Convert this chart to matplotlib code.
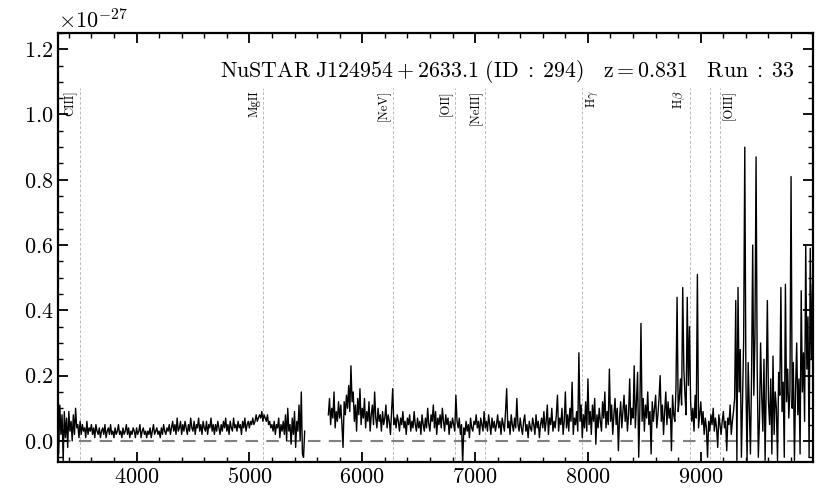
import numpy as np
import matplotlib
matplotlib.use("Agg")
import matplotlib.pyplot as plt
from matplotlib.ticker import MultipleLocator

# Computer Modern look
plt.rcParams['font.family'] = 'serif'
plt.rcParams['font.serif'] = ['cmr10']
plt.rcParams['mathtext.fontset'] = 'cm'
plt.rcParams['axes.formatter.use_mathtext'] = True

# flux values in units of 1e-27
scale = 1e-27

# blue arm: 3300 - 5490 A, one value every 10 A
blue_start = 3300
blue_flux = [
    0.06, -0.04, 0.11, 0.02, 0.08, -0.06, 0.09, 0.01, 0.07, -0.02,
    0.09, 0.03, 0.06, 0.00, 0.08, 0.02, 0.10, 0.04, 0.05, 0.01,
    0.06, 0.02, 0.05, 0.03, 0.04, 0.01, 0.06, 0.02, 0.04, 0.03,
    0.05, 0.02, 0.04, 0.01, 0.05, 0.03, 0.02, 0.04, 0.01, 0.03,
    0.04, 0.02, 0.05, 0.01, 0.03, 0.04, 0.02, 0.05, 0.02, 0.03,
    0.01, 0.04, 0.02, 0.03, 0.05, 0.02, 0.03, 0.01, 0.04, 0.02,
    0.03, 0.05, 0.02, 0.04, 0.01, 0.03, 0.02, 0.04, 0.03, 0.01,
    0.04, 0.02, 0.03, 0.05, 0.01, 0.03, 0.04, 0.02, 0.03, 0.01,
    0.03, 0.02, 0.04, 0.01, 0.03, 0.05, 0.02, 0.03, 0.04, 0.02,
    0.03, 0.01, 0.04, 0.02, 0.05, 0.03, 0.02, 0.04, 0.03, 0.05,
    0.02, 0.04, 0.06, 0.03, 0.05, 0.02, 0.07, 0.03, 0.04, 0.06,
    0.02, 0.05, 0.03, 0.06, 0.04, 0.02, 0.05, 0.03, 0.07, 0.04,
    0.03, 0.06, 0.02, 0.05, 0.04, 0.07, 0.03, 0.05, 0.02, 0.06,
    0.04, 0.03, 0.06, 0.02, 0.05, 0.04, 0.07, 0.03, 0.05, 0.02,
    0.05, 0.03, 0.06, 0.04, 0.02, 0.05, 0.03, 0.06, 0.04, 0.07,
    0.03, 0.05, 0.02, 0.06, 0.04, 0.03, 0.07, 0.04, 0.05, 0.03,
    0.06, 0.04, 0.05, 0.02, 0.06, 0.04, 0.07, 0.03, 0.05, 0.06,
    0.04, 0.06, 0.05, 0.07, 0.05, 0.06, 0.08, 0.06, 0.07, 0.08,
    0.07, 0.09, 0.06, 0.08, 0.07, 0.06, 0.08, 0.05, 0.06, 0.04,
    0.05, 0.03, 0.06, 0.02, 0.05, 0.04, 0.07, 0.01, 0.05, 0.03,
    0.06, 0.02, 0.08, 0.00, 0.10, 0.03, 0.05, -0.01, 0.07, 0.02,
    0.09, -0.02, 0.06, 0.03, 0.11, 0.00, 0.15, -0.04, -0.05, 0.03,
]

# red arm: 5700 - 10000 A, one value every 10 A
red_start = 5700
red_flux = [
    0.08, 0.13, 0.05, 0.10, 0.07, 0.15, 0.04, 0.09, 0.06, 0.12,
    0.07, 0.11, 0.05, -0.02, 0.12, 0.08, 0.14, 0.10, 0.17, 0.09,
    0.23, 0.12, 0.15, 0.06, 0.11, 0.03, 0.13, 0.08, 0.16, 0.05,
    0.10, 0.07, 0.13, 0.04, 0.09, 0.06, 0.12, 0.03, 0.08, 0.11,
    0.05, 0.15, 0.07, 0.04, 0.10, 0.06, 0.08, 0.03, 0.09, 0.05,
    0.07, 0.11, 0.04, 0.08, 0.06, 0.02, 0.09, 0.16, 0.05, 0.07,
    0.04, 0.08, 0.06, 0.03, 0.07, 0.05, 0.09, 0.04, 0.06, 0.02,
    0.07, 0.05, 0.08, 0.03, 0.06, 0.04, 0.09, 0.05, 0.03, 0.07,
    0.04, 0.06, 0.02, 0.08, 0.05, 0.03, 0.07, 0.04, 0.10, 0.05,
    0.03, 0.08, 0.06, 0.11, 0.04, 0.09, 0.02, 0.07, 0.05, 0.08,
    0.04, 0.10, 0.06, 0.03, 0.08, 0.05, 0.07, 0.02, 0.06, 0.04,
    0.07, 0.05, 0.03, 0.14, 0.06, 0.04, 0.07, 0.02, 0.05, -0.07,
    0.04, 0.02, 0.06, 0.03, 0.05, 0.01, 0.07, 0.04, 0.03, 0.06,
    0.05, 0.08, 0.04, 0.06, 0.02, 0.07, 0.05, 0.03, 0.09, 0.04,
    0.06, 0.03, 0.08, 0.05, 0.02, 0.07, 0.04, 0.06, 0.03, 0.05,
    0.08, 0.04, 0.06, 0.02, 0.07, 0.05, 0.03, 0.09, 0.16, 0.04,
    0.06, 0.02, 0.08, 0.05, 0.03, 0.07, 0.04, 0.13, 0.05, 0.03,
    0.07, 0.04, 0.02, 0.06, 0.08, 0.03, 0.05, 0.01, 0.06, 0.04,
    0.03, 0.07, 0.05, 0.02, 0.08, 0.04, 0.06, 0.01, 0.05, 0.07,
    0.04, 0.09, 0.03, 0.06, 0.11, 0.02, 0.07, 0.05, 0.10, 0.03,
    0.06, 0.04, 0.08, 0.14, 0.03, 0.07, 0.05, 0.10, 0.02, 0.06,
    0.15, 0.04, 0.08, 0.03, 0.10, 0.06, 0.18, 0.02, 0.07, 0.05,
    0.09, 0.03, 0.27, 0.06, 0.11, 0.01, 0.08, 0.04, 0.12, 0.03,
    0.19, 0.05, 0.09, 0.02, 0.11, 0.06, 0.13, -0.01, 0.08, 0.04,
    0.10, 0.06, 0.03, 0.12, 0.07, 0.15, 0.04, 0.09, 0.05, 0.22,
    0.06, 0.11, 0.02, 0.08, 0.13, 0.05, 0.10, -0.03, 0.07, 0.12,
    0.04, 0.09, 0.14, 0.06, 0.11, 0.03, 0.08, 0.19, 0.05, 0.10,
    0.07, 0.23, 0.04, 0.12, 0.21, -0.05, 0.09, 0.36, 0.06, 0.13,
    0.03, 0.11, 0.07, 0.15, 0.05, 0.09, -0.04, 0.12, 0.06, 0.10,
    0.14, 0.04, 0.08, 0.13, 0.20, 0.06, 0.11, 0.02, 0.09, 0.15,
    0.05, 0.12, 0.07, 0.10, -0.03, 0.14, 0.08, 0.06, 0.16, 0.44,
    0.09, 0.13, 0.19, 0.11, 0.47, 0.22, 0.14, 0.08, 0.44, 0.17,
    0.35, 0.12, 0.06, 0.10, 0.03, 0.14, 0.07, 0.51, 0.04, 0.08,
    0.12, 0.05, 0.09, 0.02, 0.07, 0.04, -0.05, 0.06, 0.03, 0.08,
    0.05, 0.10, 0.03, 0.07, 0.04, -0.02, 0.08, 0.05, 0.02, 0.06,
    0.09, 0.04, 0.06, -0.03, 0.07, 0.05, 0.11, 0.02, 0.06, 0.09,
    0.13, 0.43, -0.06, 0.47, 0.15, 0.28, -0.05, 0.12, 0.31, 0.90,
    0.18, -0.06, 0.24, 0.10, -0.04, 0.20, 0.60, 0.14, 0.32, 0.87,
    0.22, -0.05, 0.06, 0.30, 0.14, 0.03, 0.25, -0.06, 0.17, 0.43,
    0.12, 0.05, 0.19, -0.04, 0.26, 0.02, 0.15, 0.10, -0.06, 0.21,
    0.14, 0.47, 0.09, 0.18, -0.05, 0.48, 0.12, 0.22, 0.07, 0.15,
    0.81, 0.10, 0.24, -0.06, 0.16, 0.30, 0.08, 0.19, -0.04, 0.46,
    0.15, 0.27, 0.06, 0.60, 0.22, 0.38, -0.05, 0.59, 0.25, 0.48,
    0.20,
]

# emission lines (rest wavelength) and redshift
z = 0.831
line_names = ['CIII]', 'MgII', '[NeV]', '[OII]', '[NeIII]',
              r'H$\gamma$', r'H$\beta$', '', '[OIII]']
line_rest = [1909, 2798, 3426, 3727, 3869, 4340, 4861, 4959, 5007]
# which side of the dashed line the label sits on
line_side = ['left', 'left', 'left', 'left', 'left',
             'right', 'left', 'left', 'right']

title = (r'$\mathrm{NuSTAR\ J124954+2633.1\ (ID\;:\;294)}\quad'
         r'\mathrm{z}=0.831\quad\mathrm{Run\;:\;33}$')

blue_wave = blue_start + 10 * np.arange(len(blue_flux))
red_wave = red_start + 10 * np.arange(len(red_flux))

fig = plt.figure(figsize=(8.3, 4.98), dpi=100)
ax = fig.add_axes([0.070, 0.072, 0.910, 0.862])

# zero level
ax.axhline(0, color='#808080', lw=1.5, dashes=(6, 4), zorder=1)

# spectrum
ax.plot(blue_wave, np.array(blue_flux) * scale, color='black', lw=1.0, zorder=2)
ax.plot(red_wave, np.array(red_flux) * scale, color='black', lw=1.0, zorder=2)

# line markers
for name, rest, side in zip(line_names, line_rest, line_side):
    obs = rest * (1 + z)
    ax.vlines(obs, -0.07 * scale, 1.08 * scale, color='#bbbbbb',
              lw=0.7, linestyles=(0, (3, 2)), zorder=0)
    if name:
        off = -22 if side == 'left' else 22
        ax.text(obs + off, 1.075 * scale, name, rotation=90, fontsize=9,
                ha='right' if side == 'left' else 'left', va='top')

ax.text(0.975, 0.91, title, transform=ax.transAxes, ha='right', va='center',
        fontsize=15.8)

ax.set_xlim(3305, 9998)
ax.set_ylim(-0.065 * scale, 1.25 * scale)

ax.xaxis.set_major_locator(MultipleLocator(1000))
ax.xaxis.set_minor_locator(MultipleLocator(200))
ax.yaxis.set_major_locator(MultipleLocator(0.2 * scale))
ax.yaxis.set_minor_locator(MultipleLocator(0.05 * scale))

ax.tick_params(which='both', direction='in', top=True, right=True,
               labelsize=16)
ax.tick_params(which='major', length=7, width=1.3)
ax.tick_params(which='minor', length=3.5, width=1.0)
ax.yaxis.get_offset_text().set_fontsize(16)
for sp in ax.spines.values():
    sp.set_linewidth(1.6)

fig.savefig('out.png', dpi=100)
